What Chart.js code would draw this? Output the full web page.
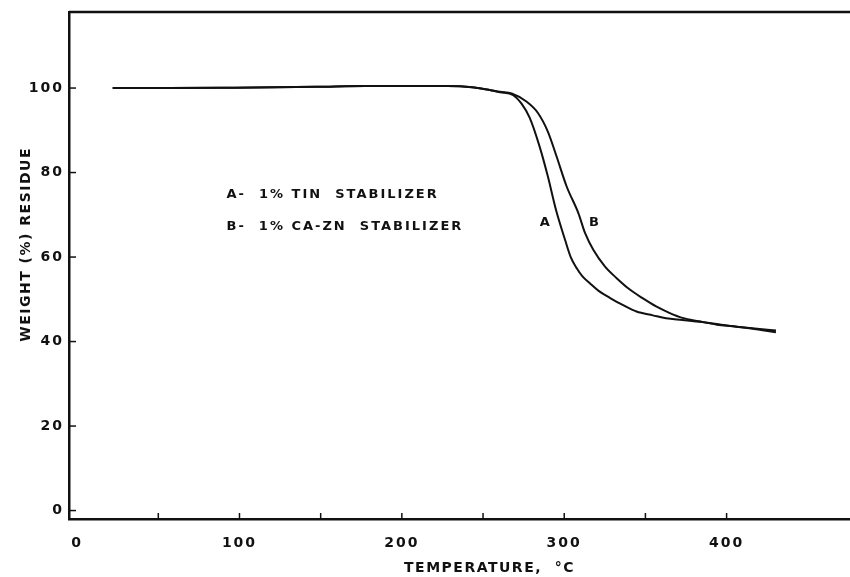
<!DOCTYPE html>
<html lang="en">
<head>
    <meta charset="UTF-8">
    <title>Weight residue vs temperature</title>
    <style>
        body {
            margin: 0;
            padding: 0;
            background: #fff;
        }

        #wrap {
            width: 850px;
            height: 577px;
        }
    </style>
</head>
<body>
<div id="wrap">
    <canvas id="tga-chart" width="850" height="577"></canvas>
</div>

<script src="https://cdn.jsdelivr.net/npm/chart.js"></script>
<script>
    // curve A - 1% tin stabilizer
    var tempA = [21.9, 56.3, 96.7, 147.3, 177.6, 228.2, 243.3, 253.4, 260.5, 268.6, 273.7, 278.7, 284.8, 289.9, 294.9, 300.5, 304, 307.6, 311.1, 315.8, 321.2, 328.3, 336.3, 344.5, 354.6, 362.7, 372.8, 384.9, 395, 404.1, 415.2, 430.4];
    var weightA = [100, 100, 100.1, 100.3, 100.5, 100.5, 100.2, 99.6, 99.0, 98.3, 96.3, 93, 86.2, 79.1, 71.2, 64.1, 60, 57.4, 55.5, 53.8, 52, 50.3, 48.6, 47.1, 46.2, 45.5, 45.1, 44.6, 44.1, 43.6, 43.1, 42.2];

    // curve B - 1% Ca-Zn stabilizer
    var tempB = [21.9, 56.3, 96.7, 147.3, 177.6, 228.2, 243.3, 253.4, 260.5, 267.6, 276.7, 283.8, 289.9, 295.3, 301.5, 308.7, 312.8, 317.9, 325, 332.3, 340.4, 348.5, 356.6, 364.7, 372.8, 382.9, 394, 404.1, 414.2, 430.4];
    var weightB = [100, 100, 100.1, 100.3, 100.5, 100.5, 100.2, 99.6, 99.1, 98.7, 96.8, 94.1, 89.7, 83.8, 76.7, 70.4, 65.7, 61.7, 57.8, 55, 52.3, 50.2, 48.3, 46.8, 45.6, 44.8, 44, 43.6, 43.2, 42.6];

    // axis ticks
    var xTickValues = [0, 50, 100, 150, 200, 250, 300, 350, 400];
    var xLabelValues = [0, 100, 200, 300, 400];
    var yTickValues = [0, 20, 40, 60, 80, 100];

    var xTitle = 'TEMPERATURE,  °C';
    var yTitle = 'WEIGHT (%) RESIDUE';
    var legendLines = ['A-  1% TIN  STABILIZER', 'B-  1% CA-ZN  STABILIZER'];

    var FONT = '"DejaVu Sans", Arial, sans-serif';
    var INK = '#111';

    function toPoints(xs, ys) {
        return xs.map(function (x, i) {
            return {x: x, y: ys[i]};
        });
    }

    var framePlugin = {
        id: 'frame',
        afterInit: function (chart) {
            chart.ctx.letterSpacing = '2px';
        },
        beforeDraw: function (chart) {
            chart.ctx.letterSpacing = '2px';
        },
        afterDraw: function (chart) {
            var ctx = chart.ctx;
            var area = chart.chartArea;
            var xs = chart.scales.x;
            var ys = chart.scales.y;
            ctx.save();
            ctx.strokeStyle = INK;
            ctx.fillStyle = INK;

            // top edge of the frame
            ctx.lineWidth = 2.5;
            ctx.beginPath();
            ctx.moveTo(area.left, area.top);
            ctx.lineTo(area.right, area.top);
            ctx.stroke();

            // inward tick marks
            ctx.lineWidth = 1.5;
            xs.ticks.forEach(function (t) {
                if (t.value <= 0) return;
                var px = xs.getPixelForValue(t.value);
                ctx.beginPath();
                ctx.moveTo(px, area.bottom);
                ctx.lineTo(px, area.bottom - 6);
                ctx.stroke();
            });
            ys.ticks.forEach(function (t) {
                var py = ys.getPixelForValue(t.value);
                ctx.beginPath();
                ctx.moveTo(area.left, py);
                ctx.lineTo(area.left + 7, py);
                ctx.stroke();
            });

            // axis titles
            ctx.letterSpacing = '1.5px';
            ctx.font = 'bold 14px ' + FONT;
            ctx.textAlign = 'center';
            ctx.textBaseline = 'middle';
            ctx.fillText(xTitle, xs.getPixelForValue(254), 568);

            ctx.save();
            ctx.translate(26, ys.getPixelForValue(63));
            ctx.rotate(-Math.PI / 2);
            ctx.fillText(yTitle, 0, 0);
            ctx.restore();

            // key text
            ctx.font = 'bold 13px ' + FONT;
            ctx.letterSpacing = '2px';
            ctx.textAlign = 'left';
            ctx.fillText(legendLines[0], xs.getPixelForValue(92), ys.getPixelForValue(74.7));
            ctx.fillText(legendLines[1], xs.getPixelForValue(92), ys.getPixelForValue(67.2));

            // curve labels
            ctx.textAlign = 'center';
            ctx.letterSpacing = '0px';
            ctx.fillText('A', xs.getPixelForValue(288), ys.getPixelForValue(68.2));
            ctx.fillText('B', xs.getPixelForValue(318.3), ys.getPixelForValue(68.2));
            ctx.restore();
        }
    };

    var ctx = document.getElementById('tga-chart').getContext('2d');
    var chart = new Chart(ctx, {
        type: 'line',
        data: {
            datasets: [
                {
                    label: 'A',
                    data: toPoints(tempA, weightA),
                    borderColor: INK,
                    borderWidth: 2,
                    pointRadius: 0,
                    fill: false,
                    cubicInterpolationMode: 'monotone'
                },
                {
                    label: 'B',
                    data: toPoints(tempB, weightB),
                    borderColor: INK,
                    borderWidth: 2,
                    pointRadius: 0,
                    fill: false,
                    cubicInterpolationMode: 'monotone'
                }
            ]
        },
        options: {
            responsive: false,
            animation: false,
            layout: {padding: {top: 12, left: 0, right: 0, bottom: 0}},
            plugins: {
                legend: {display: false},
                tooltip: {enabled: false}
            },
            scales: {
                x: {
                    type: 'linear',
                    min: -5,
                    max: 476,
                    afterBuildTicks: function (scale) {
                        scale.ticks = xTickValues.map(function (v) {
                            return {value: v};
                        });
                    },
                    afterFit: function (scale) {
                        scale.height = 58;
                        scale.paddingLeft = 0;
                        scale.paddingRight = 0;
                    },
                    grid: {display: false, drawTicks: false},
                    border: {display: true, color: INK, width: 2.5},
                    ticks: {
                        autoSkip: false,
                        maxRotation: 0,
                        padding: 16,
                        color: INK,
                        font: {family: FONT, size: 14, weight: 'bold'},
                        callback: function (v) {
                            return xLabelValues.indexOf(v) >= 0 ? String(v) : '';
                        }
                    }
                },
                y: {
                    min: -2,
                    max: 118,
                    afterBuildTicks: function (scale) {
                        scale.ticks = yTickValues.map(function (v) {
                            return {value: v};
                        });
                    },
                    afterFit: function (scale) {
                        scale.width = 69;
                        scale.paddingTop = 0;
                        scale.paddingBottom = 0;
                    },
                    grid: {display: false, drawTicks: false},
                    border: {display: true, color: INK, width: 2.5},
                    ticks: {
                        autoSkip: false,
                        padding: 5,
                        color: INK,
                        font: {family: FONT, size: 14, weight: 'bold'},
                        callback: function (v) {
                            return String(v);
                        }
                    }
                }
            }
        },
        plugins: [framePlugin]
    });
</script>
</body>
</html>
